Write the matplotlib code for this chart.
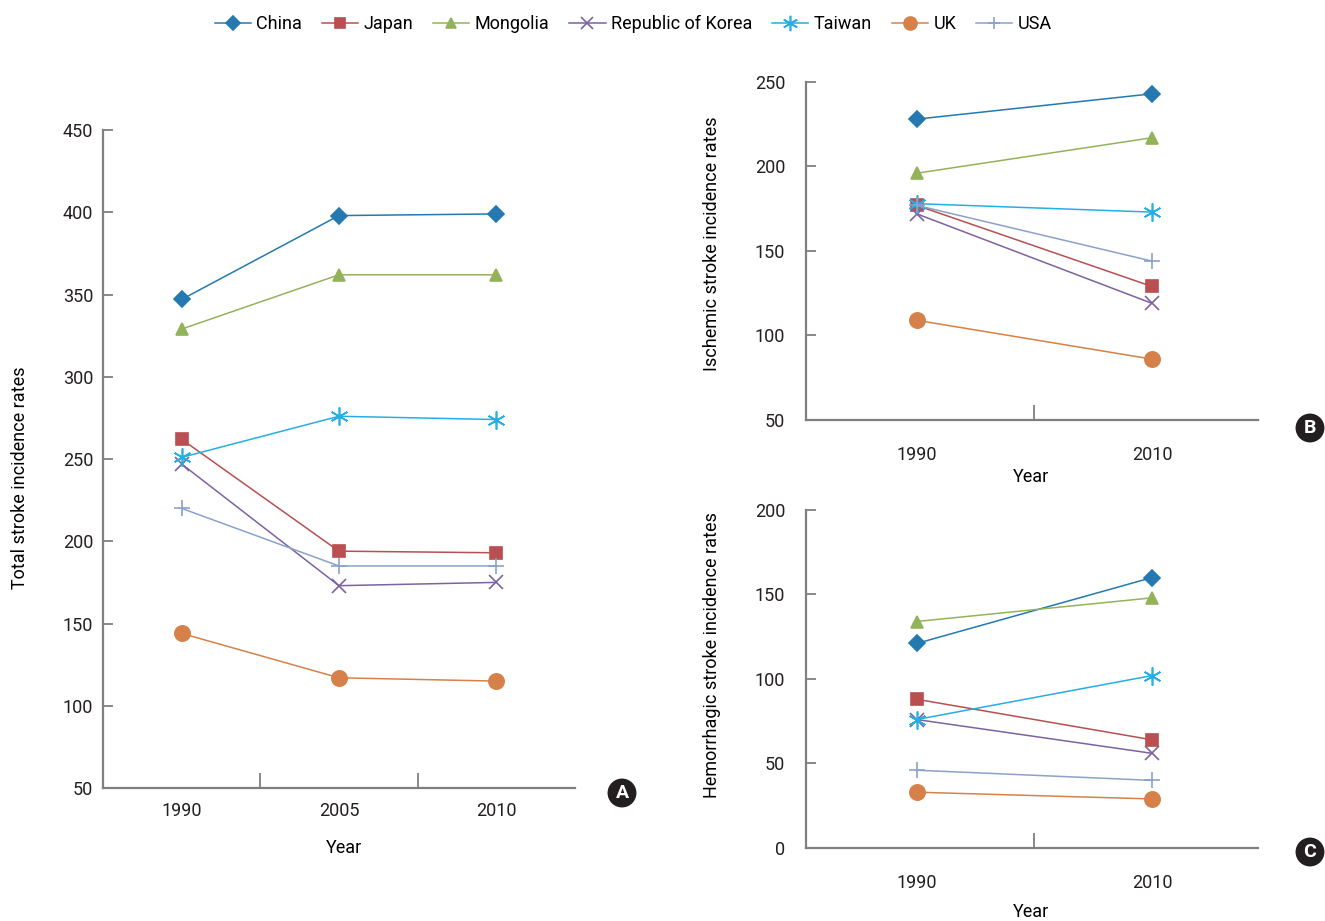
import matplotlib
matplotlib.use("Agg")
import matplotlib.pyplot as plt
from matplotlib.lines import Line2D

plt.rcParams['font.family'] = ['Roboto', 'DejaVu Sans']

# incidence rates per 100,000
countries = ['China', 'Japan', 'Mongolia', 'Republic of Korea', 'Taiwan', 'UK', 'USA']

years_total = ['1990', '2005', '2010']
total = {
    'China': [347, 398, 399],
    'Japan': [262, 194, 193],
    'Mongolia': [329, 362, 362],
    'Republic of Korea': [247, 173, 175],
    'Taiwan': [251, 276, 274],
    'UK': [144, 117, 115],
    'USA': [220, 185, 185],
}

years_sub = ['1990', '2010']
ischemic = {
    'China': [228, 243],
    'Japan': [177, 129],
    'Mongolia': [196, 217],
    'Republic of Korea': [172, 119],
    'Taiwan': [178, 173],
    'UK': [109, 86],
    'USA': [177, 144],
}
hemorrhagic = {
    'China': [121, 160],
    'Japan': [88, 64],
    'Mongolia': [134, 148],
    'Republic of Korea': [76, 56],
    'Taiwan': [76, 102],
    'UK': [33, 29],
    'USA': [46, 40],
}

# line colour, marker, marker size
styles = {
    'China': ('#2479b0', 'D', 8),
    'Japan': ('#b94f50', 's', 8),
    'Mongolia': ('#93b35b', '^', 9),
    'Republic of Korea': ('#7c62a0', 'x', 10),
    'Taiwan': ('#25aee3', (6, 2, 0), 13),
    'UK': ('#d6814a', 'o', 11),
    'USA': ('#8aa2ca', '+', 11),
}

axis_grey = '#7f7f7f'
fs = 13


def style_axes(ax, ylim, yticks, ypad, xpad):
    for s in ['top', 'right']:
        ax.spines[s].set_visible(False)
    for s in ['left', 'bottom']:
        ax.spines[s].set_color(axis_grey)
        ax.spines[s].set_linewidth(1.6)
    ax.set_ylim(*ylim)
    ax.set_yticks(yticks)
    ax.tick_params(axis='y', direction='in', length=7, width=1.3, color=axis_grey,
                   pad=ypad, labelsize=fs, labelcolor='#231f20')
    ax.tick_params(axis='x', which='major', length=0, pad=xpad, labelsize=fs,
                   labelcolor='#231f20')
    ax.tick_params(axis='x', which='minor', direction='in', length=11, width=1.3,
                   color=axis_grey)


def draw(ax, years, data):
    xs = list(range(len(years)))
    for c in countries:
        col, mk, ms = styles[c]
        ax.plot(xs, data[c], color=col, lw=1.1, marker=mk, ms=ms,
                mec=col, mfc=col, mew=1.2)
    ax.set_xticks(xs)
    ax.set_xticklabels(years)
    ax.set_xticks([x + 0.5 for x in xs[:-1]], minor=True)


fig = plt.figure(figsize=(13.25, 9.21), dpi=100)

# panel A: total stroke
axA = fig.add_axes([0.0777, 0.1444, 0.3562, 0.7144])
draw(axA, years_total, total)
axA.set_xlim(-0.5, 2.5)
style_axes(axA, (50, 450), range(50, 451, 50), 7, 10)
axA.set_ylabel('Total stroke incidence rates', fontsize=fs, va='center')
axA.yaxis.set_label_coords(-0.176, 0.471)
axA.set_xlabel('Year', fontsize=fs, va='center')
axA.xaxis.set_label_coords(0.51, -0.091)

# panel B: ischemic stroke
axB = fig.add_axes([0.6083, 0.544, 0.3411, 0.367])
draw(axB, years_sub, ischemic)
axB.set_xlim(-0.47, 1.45)
style_axes(axB, (50, 250), range(50, 251, 50), 15, 19)
axB.set_ylabel('Ischemic stroke incidence rates', fontsize=fs, va='center')
axB.yaxis.set_label_coords(-0.208, 0.521)
axB.set_xlabel('Year', fontsize=fs, va='center')
axB.xaxis.set_label_coords(0.498, -0.169)

# panel C: hemorrhagic stroke
axC = fig.add_axes([0.6083, 0.0793, 0.3411, 0.367])
draw(axC, years_sub, hemorrhagic)
axC.set_xlim(-0.47, 1.45)
style_axes(axC, (0, 200), range(0, 201, 50), 15, 19)
axC.set_ylabel('Hemorrhagic stroke incidence rates', fontsize=fs, va='center')
axC.yaxis.set_label_coords(-0.208, 0.571)
axC.set_xlabel('Year', fontsize=fs, va='center')
axC.xaxis.set_label_coords(0.498, -0.189)

# shared legend across the top
handles = []
for c in countries:
    col, mk, ms = styles[c]
    handles.append(Line2D([], [], color=col, lw=1.1, marker=mk, ms=ms * 0.85,
                          mec=col, mfc=col, mew=1.2))
fig.legend(handles, countries, loc='center', bbox_to_anchor=(0.478, 0.974),
           ncol=7, frameon=False, fontsize=fs, handlelength=2.0,
           columnspacing=1.1, handletextpad=0.3)

# panel badges
for letter, x, y in [('A', 622, 793), ('B', 1310, 428), ('C', 1310, 852)]:
    fig.text(x / 1325, 1 - y / 921, letter, ha='center', va='center',
             color='white', fontsize=14, fontweight='bold',
             bbox=dict(boxstyle='circle,pad=0.28', fc='#231f20', ec='none'))

fig.savefig('out.png', dpi=100)
